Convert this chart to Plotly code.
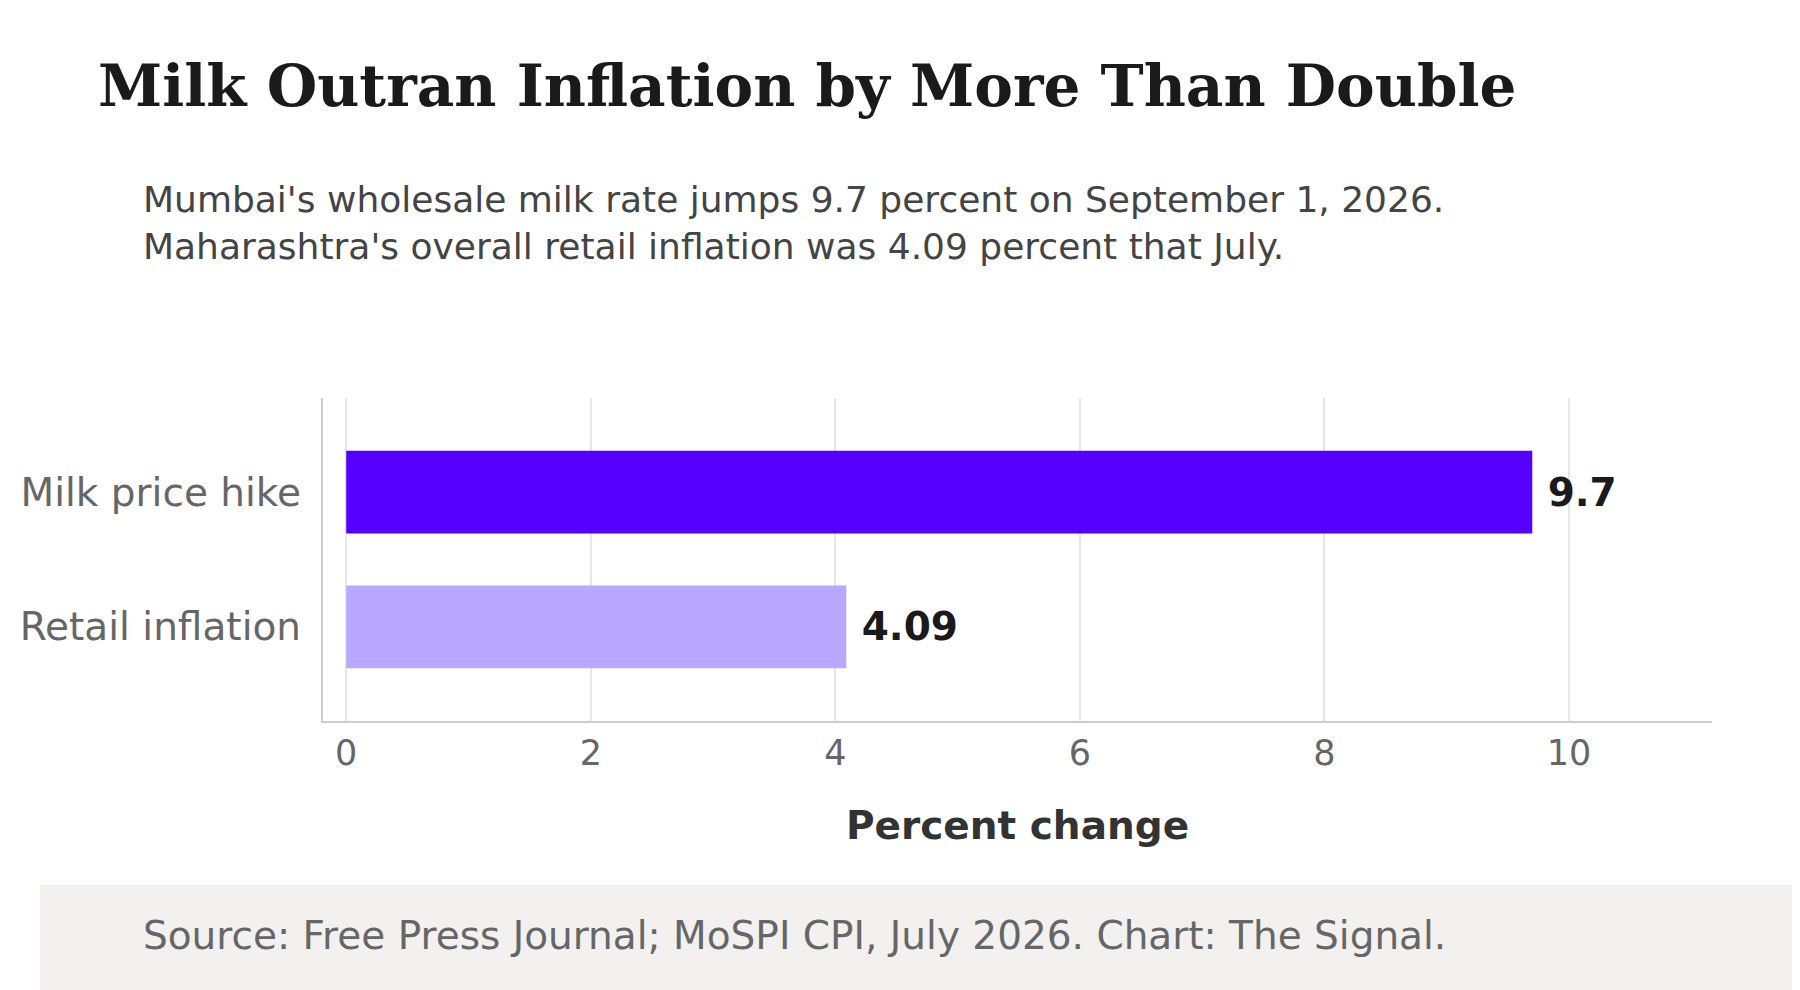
import plotly.graph_objects as go

categories = ["Milk price hike", "Retail inflation"]
values = [9.7, 4.09]
value_labels = ["9.7", "4.09"]
colors = ["#5500FF", "#B8A8FF"]
tick_vals = [0, 2, 4, 6, 8, 10]

fig = go.Figure(go.Bar(
    x=values, y=categories, orientation="h",
    marker=dict(color=colors, line=dict(width=0)),
    width=0.615,
    text=value_labels, textposition="outside", cliponaxis=False,
    textfont=dict(family="DejaVu Sans", size=39, color="#1a1a1a"),
    texttemplate="\u00a0<b>%{text}</b>",
    hoverinfo="skip",
))

W, H = 1800, 990
L, R, T, B = 272, 1704, 390, 713


def py(p):
    return (B - p) / (B - T)


def px(p):
    return (p - L) / (R - L)


fig.update_layout(
    width=W, height=H,
    margin=dict(l=L, r=W - R, t=T, b=H - B),
    plot_bgcolor="white", paper_bgcolor="white",
    showlegend=False,
    title=dict(text="<b>Milk Outran Inflation by More Than Double</b>",
               font=dict(family="DejaVu Serif", size=58, color="#1a1a1a"),
               xref="container", yref="container", x=90 / W, y=1 - 78 / H,
               xanchor="left", yanchor="middle"),
    xaxis=dict(range=[-0.19, 11.17], tickvals=tick_vals, showgrid=True,
               gridcolor="#e6e6e6", gridwidth=1.5, zeroline=False,
               showline=True, linecolor="#cccccc", linewidth=1.5,
               ticks="", tickfont=dict(family="DejaVu Sans", size=35, color="#666666"),
               title=dict(text="<b>Percent change</b>", standoff=40,
                          font=dict(family="DejaVu Sans", size=39, color="#333333"))),
    yaxis=dict(range=[1.7, -0.7], showgrid=False, zeroline=False,
               showline=True, linecolor="#cccccc", linewidth=1.5, ticks="",
               ticksuffix=" ",
               tickfont=dict(family="DejaVu Sans", size=39, color="#666666")),
    shapes=[dict(type="rect", xref="paper", yref="paper",
                 x0=px(-20), x1=px(W + 20), y0=py(877), y1=py(H + 20),
                 fillcolor="#f2f1f0", line=dict(width=0), layer="below")],
)

for txt, yy in [("Mumbai's wholesale milk rate jumps 9.7 percent on September 1, 2026.", 191),
                ("Maharashtra's overall retail inflation was 4.09 percent that July.", 239)]:
    fig.add_annotation(text=txt, xref="paper", yref="paper", x=px(84), y=py(yy),
                       xanchor="left", yanchor="middle", showarrow=False,
                       font=dict(family="DejaVu Sans", size=36, color="#444444"))

fig.add_annotation(text="Source: Free Press Journal; MoSPI CPI, July 2026. Chart: The Signal.",
                   xref="paper", yref="paper", x=px(84), y=py(927),
                   xanchor="left", yanchor="middle", showarrow=False,
                   font=dict(family="DejaVu Sans", size=39, color="#666666"))

fig.write_html("out.html")
